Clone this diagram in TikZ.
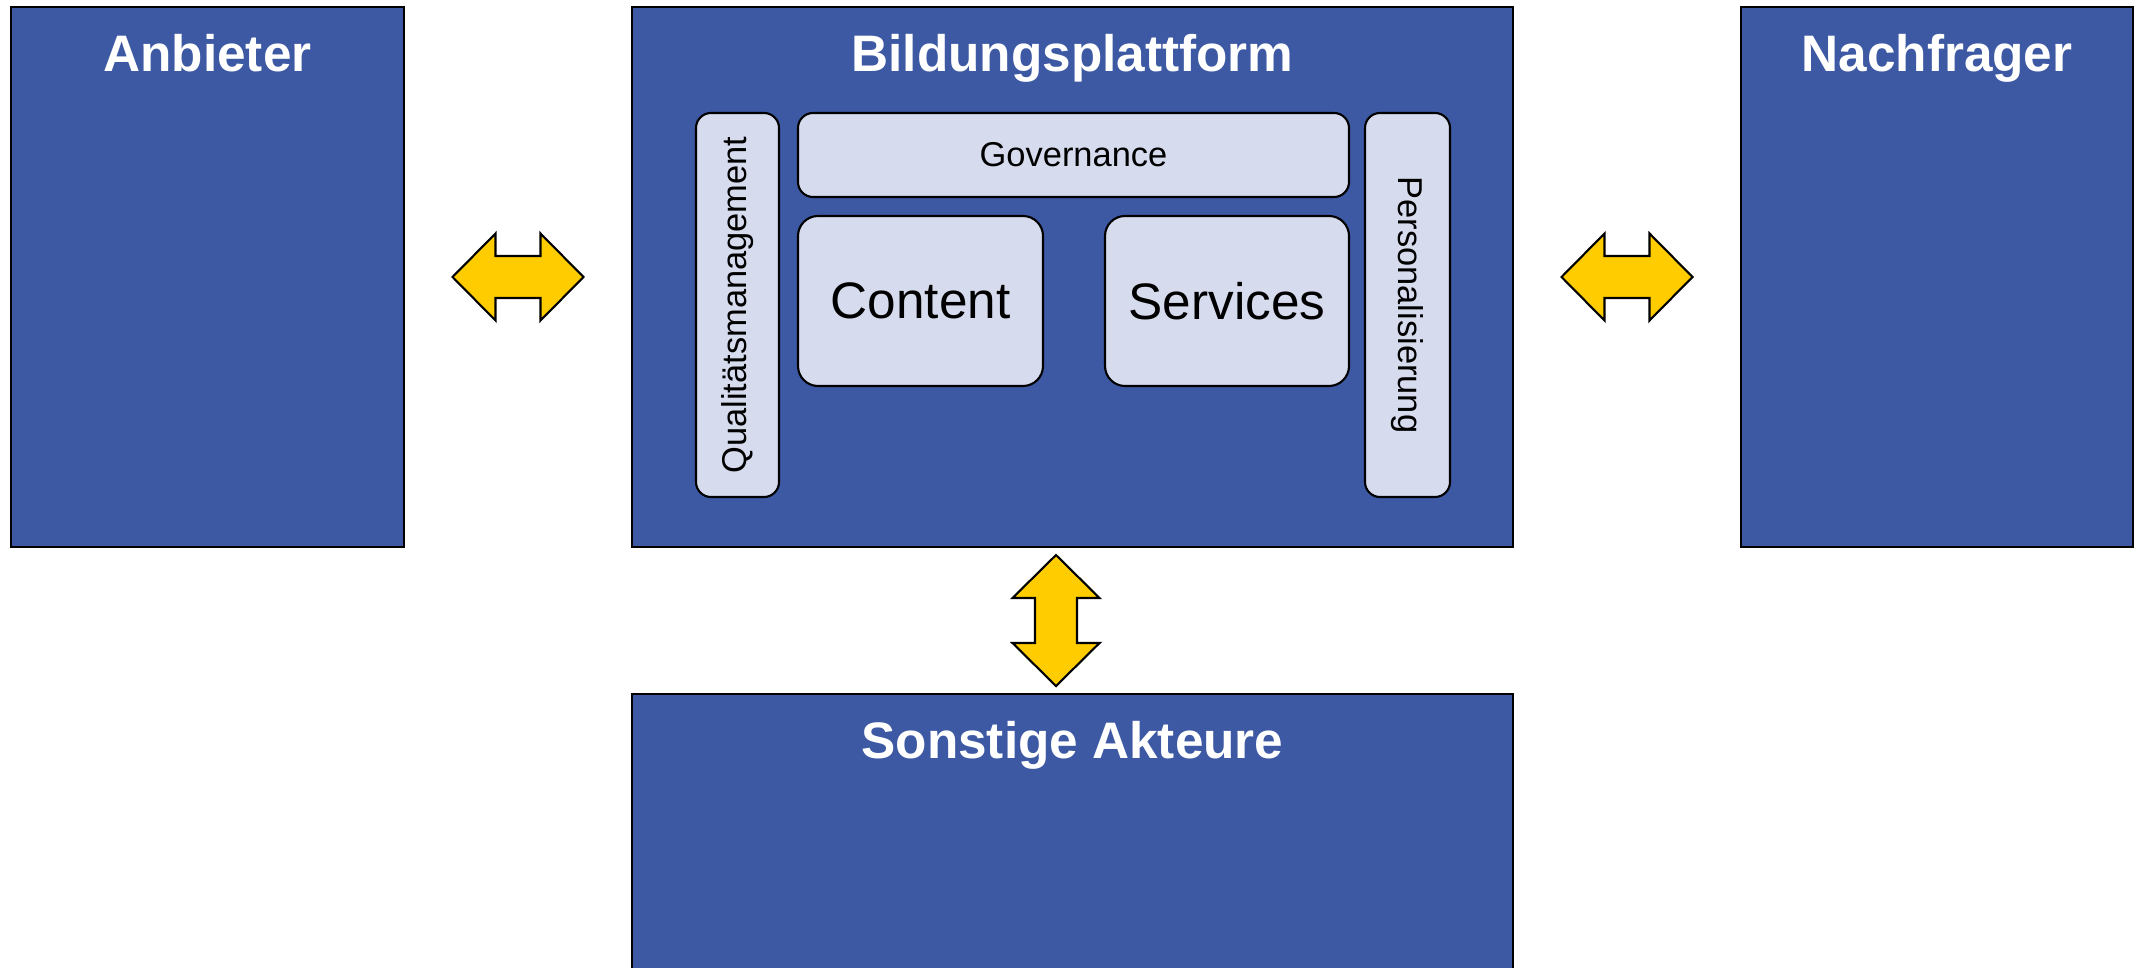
\documentclass[tikz,border=0pt]{standalone}
\usepackage{fontspec}
\setmainfont{Liberation Sans}
\usetikzlibrary{calc}

\definecolor{platformblue}{RGB}{61,89,163}
\definecolor{modulefill}{RGB}{214,220,238}
\definecolor{arrowyellow}{RGB}{255,204,0}

\begin{document}
\begin{tikzpicture}[
    actor/.style={
        rectangle,
        draw=black,
        line width=0.6pt,
        fill=platformblue,
        inner sep=0pt,
    },
    title/.style={
        anchor=base,
        text=white,
        font=\fontsize{14.6}{17}\selectfont\bfseries,
    },
    module/.style={
        rectangle,
        rounded corners=0.15cm,
        draw=black,
        line width=0.6pt,
        fill=modulefill,
        inner sep=0pt,
        font=\fontsize{9.8}{12}\selectfont,
    },
    bigmodule/.style={
        module,
        rounded corners=0.2cm,
        font=\fontsize{14.6}{17}\selectfont,
    },
    exchange/.pic={
        \draw[draw=black, line width=0.6pt, fill=arrowyellow, line join=miter]
            (-0.655,0) -- (-0.225,0.435) -- (-0.225,0.21) -- (0.225,0.21)
            -- (0.225,0.435) -- (0.655,0) -- (0.225,-0.435) -- (0.225,-0.21)
            -- (-0.225,-0.21) -- (-0.225,-0.435) -- cycle;
    }
]
    \useasboundingbox (0,0) rectangle (21.39,-9.68);
    \clip (0,0) rectangle (21.39,-9.68);

    % Actors
    \node[actor, minimum width=3.93cm, minimum height=5.40cm] (anbieter) at (2.075,-2.77) {};
    \node[actor, minimum width=8.81cm, minimum height=5.40cm] (plattform) at (10.725,-2.77) {};
    \node[actor, minimum width=3.92cm, minimum height=5.40cm] (nachfrager) at (19.37,-2.77) {};
    \node[actor, minimum width=8.81cm, minimum height=2.90cm, anchor=north] (sonstige) at (10.725,-6.93) {};

    % Titles
    \node[title] (anbieterTitle) at ([yshift=-0.66cm]anbieter.north) {Anbieter};
    \node[title] (plattformTitle) at ([yshift=-0.66cm]plattform.north) {Bildungsplattform};
    \node[title] (nachfragerTitle) at ([yshift=-0.66cm]nachfrager.north) {Nachfrager};
    \node[title] (sonstigeTitle) at ([yshift=-0.66cm]sonstige.north) {Sonstige Akteure};

    % Platform modules
    \node[module, rotate=90, minimum width=3.84cm, minimum height=0.83cm] (qualitaet) at (7.375,-3.05) {Qualitätsmanagement};
    \node[module, minimum width=5.51cm, minimum height=0.84cm] (governance) at (10.735,-1.55) {Governance};
    \node[module, rotate=-90, minimum width=3.84cm, minimum height=0.85cm] (personal) at (14.075,-3.05) {Personalisierung};
    \node[bigmodule, minimum width=2.45cm, minimum height=1.70cm] (content) at (9.205,-3.01) {Content};
    \node[bigmodule, minimum width=2.44cm, minimum height=1.70cm] (services) at (12.27,-3.01) {Services};

    % Exchange arrows
    \coordinate (anbieterLink) at ($(anbieter.east)!0.5!(plattform.west)$);
    \coordinate (nachfragerLink) at ($(plattform.east)!0.5!(nachfrager.west)$);
    \coordinate (sonstigeLink) at ([xshift=-0.165cm]$(plattform.south)!0.5!(sonstige.north)$);
    \pic at (anbieterLink) {exchange};
    \pic at (nachfragerLink) {exchange};
    \pic[rotate=90] at (sonstigeLink) {exchange};
\end{tikzpicture}
\end{document}
